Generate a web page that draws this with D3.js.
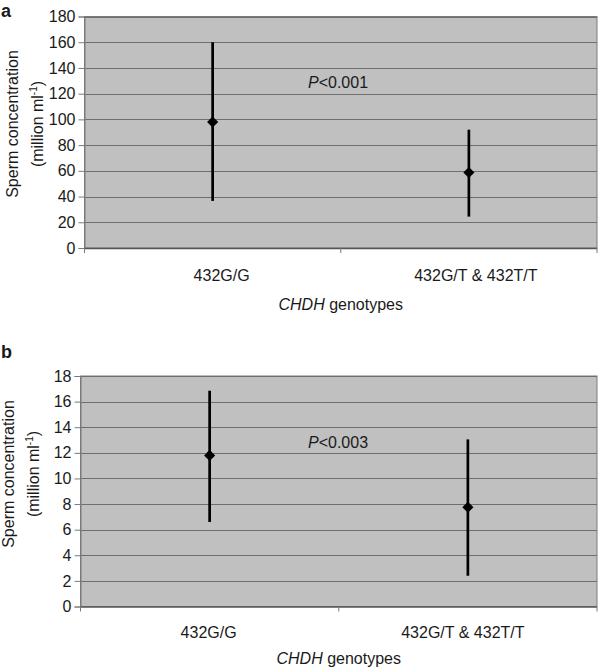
<!DOCTYPE html>
<html>
<head>
<meta charset="utf-8">
<script src="https://cdn.jsdelivr.net/npm/d3@7"></script>
<style>
  html, body { margin: 0; padding: 0; background: #fff; }
  svg { display: block; }
  text { font-family: "Liberation Sans", Arial, sans-serif; fill: #1a1a1a; }
</style>
</head>
<body>
<svg id="chart" width="600" height="670"></svg>
<script>
// ---- Data ----
const categories = ["432G/G", "432G/T & 432T/T"];

// Panel a
const aMean = [98, 58.7];
const aLow  = [36.6, 24.4];
const aHigh = [160, 92];
const aTicks = [0, 20, 40, 60, 80, 100, 120, 140, 160, 180];
const aPText = "<0.001";

// Panel b
const bMean = [11.8, 7.75];
const bLow  = [6.6, 2.4];
const bHigh = [16.85, 13.05];
const bTicks = [0, 2, 4, 6, 8, 10, 12, 14, 16, 18];
const bPText = "<0.003";

const svg = d3.select("#chart");
const FS = 16;

function drawPanel(opts) {
  const { letter, letterY, left, right, top, bottom, ticks, mean, low, high,
          pText, pX, pY, catLabelY, catOffset, titleY, yLabelCx, yLabelCy } = opts;
  const g = svg.append("g");
  const x = d3.scaleBand().domain(categories).range([left, right]).paddingInner(0).paddingOuter(0);
  const y = d3.scaleLinear().domain([0, d3.max(ticks)]).range([bottom, top]);

  // plot background
  g.append("rect").attr("x", left).attr("y", top)
    .attr("width", right - left).attr("height", bottom - top)
    .attr("fill", "#c0c0c0").attr("stroke", "#7a7a7a").attr("stroke-width", 1);

  // gridlines
  g.append("g").selectAll("line").data(ticks.filter(t => t > 0)).join("line")
    .attr("x1", left).attr("x2", right)
    .attr("y1", d => Math.round(y(d)) + 0.5).attr("y2", d => Math.round(y(d)) + 0.5)
    .attr("stroke", "#6e6e6e").attr("stroke-width", 1);

  // y axis
  const yAxis = d3.axisLeft(y).tickValues(ticks).tickSize(6).tickPadding(3).tickFormat(d3.format("d"));
  const ya = g.append("g").attr("transform", `translate(${left},0)`).call(yAxis);
  ya.select(".domain").attr("stroke", "#7a7a7a");
  ya.selectAll(".tick line").attr("stroke", "#7a7a7a");
  ya.selectAll(".tick text").attr("font-size", FS).attr("fill", "#1a1a1a")
    .style("font-family", '"Liberation Sans", Arial, sans-serif');

  // x axis (bottom) with tick marks at band boundaries
  g.append("line").attr("x1", left).attr("x2", right)
    .attr("y1", bottom + 0.5).attr("y2", bottom + 0.5)
    .attr("stroke", "#555").attr("stroke-width", 1.5);
  const bounds = [left, ...categories.map(c => x(c) + x.bandwidth())];
  g.append("g").selectAll("line").data(bounds).join("line")
    .attr("x1", d => d).attr("x2", d => d)
    .attr("y1", bottom).attr("y2", bottom + 5)
    .attr("stroke", "#7a7a7a");

  // category labels
  g.append("g").selectAll("text").data(categories).join("text")
    .attr("x", (d, i) => x(d) + x.bandwidth() / 2 + catOffset[i])
    .attr("y", catLabelY)
    .attr("text-anchor", "middle").attr("font-size", FS)
    .text(d => d);

  // x axis title
  const t = g.append("text").attr("x", (left + right) / 2).attr("y", titleY)
    .attr("text-anchor", "middle").attr("font-size", FS);
  t.append("tspan").attr("font-style", "italic").text("CHDH");
  t.append("tspan").text(" genotypes");

  // y axis title
  const yt = g.append("text").attr("transform", `translate(${yLabelCx},${yLabelCy}) rotate(-90)`)
    .attr("text-anchor", "middle").attr("font-size", FS);
  yt.append("tspan").attr("x", 0).attr("dy", 0).text("Sperm concentration");
  yt.append("tspan").attr("x", 0).attr("dy", 25).text("(million ml");
  yt.append("tspan").attr("font-size", 10).attr("dy", -6).text("-1");
  yt.append("tspan").attr("dy", 6).text(")");

  // error bars
  g.append("g").selectAll("line").data(categories).join("line")
    .attr("x1", d => x(d) + x.bandwidth() / 2).attr("x2", d => x(d) + x.bandwidth() / 2)
    .attr("y1", (d, i) => y(low[i])).attr("y2", (d, i) => y(high[i]))
    .attr("stroke", "#000").attr("stroke-width", 2.7);

  // diamond markers (square rotated 45°)
  const sym = d3.symbol().type(d3.symbolSquare).size(62);
  g.append("g").selectAll("path").data(categories).join("path")
    .attr("d", sym)
    .attr("transform", (d, i) => `translate(${x(d) + x.bandwidth() / 2},${y(mean[i])}) rotate(45)`)
    .attr("fill", "#000");

  // P value
  const p = g.append("text").attr("x", pX).attr("y", pY).attr("font-size", FS);
  p.append("tspan").attr("font-style", "italic").text("P");
  p.append("tspan").text(pText);

  // panel letter
  svg.append("text").attr("x", 1).attr("y", letterY)
    .attr("font-size", 18).attr("font-weight", "bold").text(letter);
}

drawPanel({
  letter: "a", letterY: 16.5,
  left: 84.5, right: 597, top: 16.5, bottom: 248,
  ticks: aTicks, mean: aMean, low: aLow, high: aHigh,
  pText: aPText, pX: 308, pY: 88,
  catLabelY: 281, catOffset: [9, 7], titleY: 310,
  yLabelCx: 18, yLabelCy: 124
});

drawPanel({
  letter: "b", letterY: 358,
  left: 80.5, right: 597, top: 376, bottom: 606.5,
  ticks: bTicks, mean: bMean, low: bLow, high: bHigh,
  pText: bPText, pX: 308, pY: 448,
  catLabelY: 638, catOffset: [-1, -5], titleY: 664,
  yLabelCx: 14, yLabelCy: 474
});
</script>
</body>
</html>
